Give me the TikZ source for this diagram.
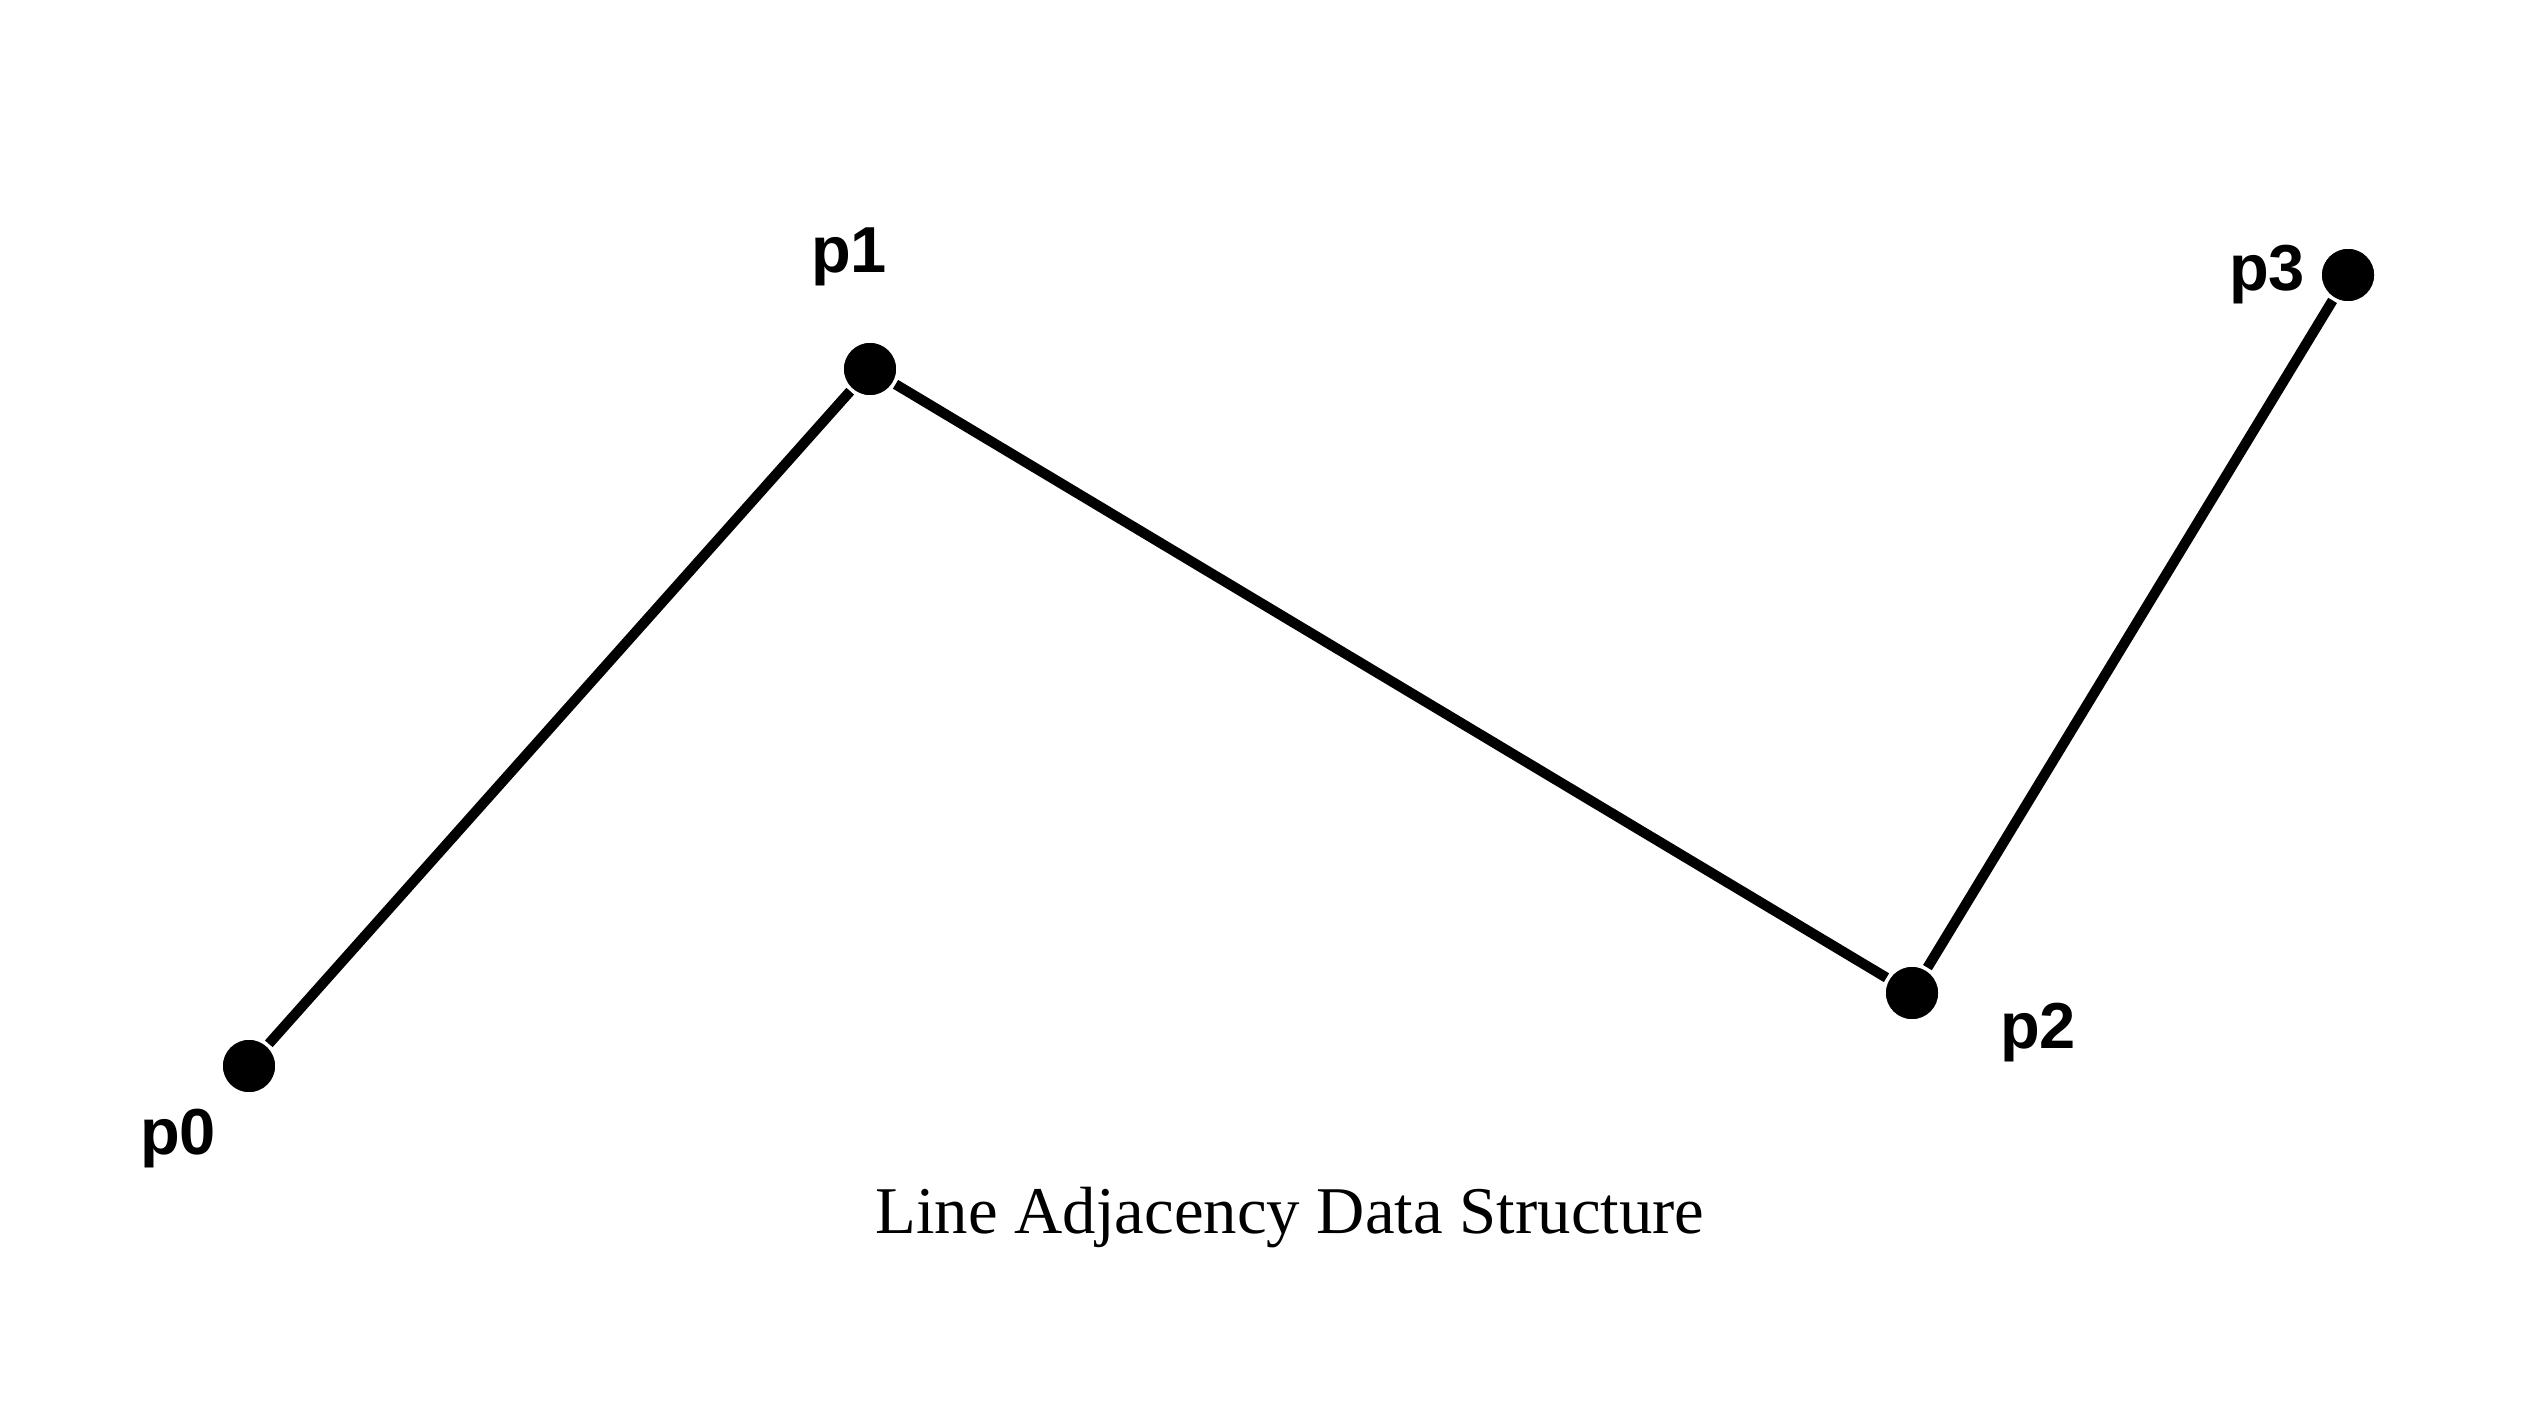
\documentclass[tikz,border=0pt]{standalone}
\usepackage{fontspec}
\setmainfont{Liberation Serif}
\newfontfamily\labelfont{Liberation Sans}
\usetikzlibrary{positioning}

\tikzset{
    vertex/.style={circle, fill=black, draw=white, line width=1pt,
        minimum size=0.56cm, inner sep=0pt},
    edge/.style={line width=2.9pt},
    vlabel/.style={font=\labelfont\bfseries\fontsize{18.5}{22}\selectfont, inner sep=0pt}
}

\begin{document}
\begin{tikzpicture}[x=1cm, y=1cm]
        \useasboundingbox (0,0) rectangle (25.41,14.13);
        % Points
        \node [vertex] (p0) at (2.49,3.47) {};
        \node [vertex] (p1) at (8.70,10.44) {};
        \node [vertex] (p2) at (19.12,4.20) {};
        \node [vertex] (p3) at (23.48,11.38) {};
        % Lines
        \draw [edge] (p0) -- (p1);
        \draw [edge] (p1) -- (p2);
        \draw [edge] (p2) -- (p3);
        % Labels
        \node [vlabel] (l0) at (1.78,2.74) {p0};
        \node [vlabel] (l1) at (8.49,11.56) {p1};
        \node [vlabel] (l2) at (20.38,3.80) {p2};
        \node [vlabel] (l3) at (22.67,11.38) {p3};
        % Caption
        \node [anchor=base, font=\fontsize{19}{23}\selectfont, inner sep=0pt]
            (title) at (12.90,1.80) {Line Adjacency Data Structure};
\end{tikzpicture}
\end{document}
